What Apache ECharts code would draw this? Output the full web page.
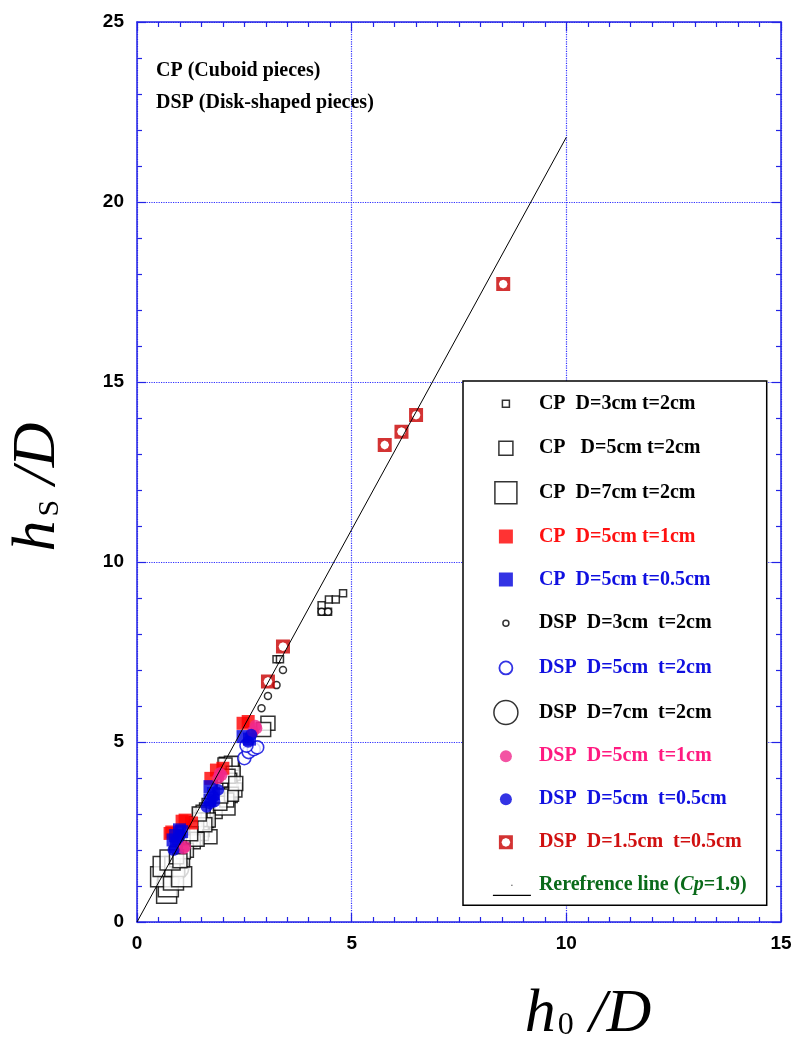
<!DOCTYPE html>
<html><head><meta charset="utf-8">
<script src="https://cdn.jsdelivr.net/npm/echarts@6/dist/echarts.min.js"></script>
<style>html,body{margin:0;padding:0;background:#fff}#c{width:797px;height:1043px}</style>
</head><body><div id="c"></div>
<script>
// ---- axis ranges / ticks ----
const xRange = [0, 15], xStep = 5;
const yRange = [0, 25], yStep = 5;

// ---- data [h0/D, hs/D] ----
const cp3 = [[4.30,8.62],[4.45,8.62],[4.30,8.80],[4.47,8.96],[4.63,8.96],[4.80,9.13],[3.25,7.30],[3.33,7.30]];
const cp5 = [[3.05,5.52],[2.95,5.35],[2.20,4.41],[2.05,4.36],[2.24,4.13],[2.16,3.94],[2.28,3.67],[2.09,3.39],[1.93,3.30],[2.20,3.55],[1.62,3.11],[1.54,3.05],[1.66,2.83],[1.47,2.83],[1.35,2.56],[1.50,2.46],[1.39,2.65],[1.23,2.28],[1.31,2.23],[1.15,1.99],[1.08,1.95],[0.92,1.81],[1.70,2.37],[1.40,2.30],[2.12,4.05],[2.30,3.85],[1.58,2.70],[1.25,2.45],[1.00,1.70],[1.95,3.50],[1.45,3.00]];
const cp7 = [[0.69,0.80],[0.73,0.98],[0.55,1.26],[0.85,1.17],[0.61,1.54],[0.88,1.54],[1.04,1.26],[0.99,1.81],[0.77,1.72],[1.55,2.90],[1.75,3.15],[2.10,3.60],[2.15,4.30],[1.45,2.65],[2.05,3.25],[1.30,2.40]];
const cpT1 = [[2.47,5.52],[2.59,5.57],[1.85,4.22],[2.00,4.27],[1.72,3.99],[0.77,2.46],[0.81,2.50],[1.12,2.83],[1.27,2.75],[1.05,2.80]];
const cpT05 = [[2.47,5.15],[2.62,5.08],[1.70,3.76],[1.78,3.57],[1.70,3.39],[0.84,2.28],[0.99,2.56],[0.92,2.09],[1.04,2.51],[0.90,2.40]];
const dsp3 = [[3.40,7.00],[3.25,6.58],[3.05,6.28],[2.90,5.94],[4.30,8.62],[4.45,8.62]];
const dsp5 = [[2.50,4.55],[2.60,4.72],[2.72,4.80],[2.80,4.85],[2.55,4.90]];
const dsp7 = [[0.73,1.17],[0.95,1.50],[1.45,2.70],[2.10,3.80]];
const dspT1 = [[2.78,5.38],[2.70,5.29],[2.76,5.45],[1.97,4.08],[1.89,3.99],[1.93,4.13],[1.12,2.09],[1.08,2.04]];
const dspT05 = [[2.59,5.01],[2.66,5.20],[1.89,3.67],[1.78,3.48],[1.70,3.30],[1.62,3.20],[1.80,3.35],[0.92,2.28],[0.85,2.00],[1.00,2.40]];
const dsp15 = [[3.05,6.68],[3.40,7.65],[5.77,13.25],[6.16,13.62],[6.50,14.08],[8.53,17.72]];
const refLine = [[0,0],[10,21.8]];

const names = {
  cp3: 'CP  D=3cm t=2cm', cp5: 'CP   D=5cm t=2cm', cp7: 'CP  D=7cm t=2cm',
  cpT1: 'CP  D=5cm t=1cm', cpT05: 'CP  D=5cm t=0.5cm',
  dsp3: 'DSP  D=3cm  t=2cm', dsp5: 'DSP  D=5cm  t=2cm', dsp7: 'DSP  D=7cm  t=2cm',
  dspT1: 'DSP  D=5cm  t=1cm', dspT05: 'DSP  D=5cm  t=0.5cm', dsp15: 'DSP  D=1.5cm  t=0.5cm',
  ref: 'Rerefrence line (Cp=1.9)'
};

const BLUE = '#2323e6', RED = '#ff0000', DBLUE = '#0000dd', PINK = '#f0288c', DRED = '#c80000';
const SERIF = "'Liberation Serif', 'Times New Roman', serif";
const SANS = "'Liberation Sans', Arial, sans-serif";

const holeSym = 'path://M0,0L14,0L14,14L0,14Z M7,2.6 L3.9,3.9 L2.6,7 L3.9,10.1 L7,11.4 L10.1,10.1 L11.4,7 L10.1,3.9 Z';

// legend icons (box 56 x 30)
const W = 56, H = 30, CX = 28, CY = 15;
const pad = 'M0,0M' + W + ',' + H;
function sqIcon(s) { const h = s / 2; return 'path://' + pad + 'M' + (CX - h) + ',' + (CY - h) + 'h' + s + 'v' + s + 'h' + (-s) + 'Z'; }
function ciIcon(r) { return 'path://' + pad + 'M' + (CX - r) + ',' + CY + 'A' + r + ',' + r + ' 0 1,0 ' + (CX + r) + ',' + CY + 'A' + r + ',' + r + ' 0 1,0 ' + (CX - r) + ',' + CY + 'Z'; }
function holeIcon() {
  const s = 14, h = 7, ox = CX - h, oy = CY - h;
  const p = [[7,2.6],[3.9,3.9],[2.6,7],[3.9,10.1],[7,11.4],[10.1,10.1],[11.4,7],[10.1,3.9]];
  let d = pad + 'M' + ox + ',' + oy + 'L' + (ox + s) + ',' + oy + 'L' + (ox + s) + ',' + (oy + s) + 'L' + ox + ',' + (oy + s) + 'Z';
  d += 'M' + (ox + p[0][0]) + ',' + (oy + p[0][1]);
  for (let i = 1; i < p.length; i++) d += 'L' + (ox + p[i][0]) + ',' + (oy + p[i][1]);
  return 'path://' + d + 'Z';
}
const lineIcon = 'path://' + pad + 'M15,24.5h38v1.3h-38Z M33.5,14.5h1v1h-1Z';

function scat(name, data, symbol, size, style) {
  return { name: name, type: 'scatter', data: data, symbol: symbol, symbolSize: size,
           itemStyle: style, emphasis: { disabled: true }, animation: false };
}
const openBlack = { color: '#fff', borderColor: '#000', borderWidth: 1.5 };

const series = [
  scat(names.dsp7, dsp7, 'circle', 22, openBlack),
  scat(names.cp7, cp7, 'rect', 20, openBlack),
  scat(names.cp5, cp5, 'rect', 14, openBlack),
  scat(names.cp3, cp3, 'rect', 7, openBlack),
  scat(names.dsp3, dsp3, 'circle', 7, openBlack),
  scat(names.dsp5, dsp5, 'circle', 13, { color: '#fff', borderColor: DBLUE, borderWidth: 1.6 }),
  scat(names.cpT1, cpT1, 'rect', 13, { color: RED }),
  scat(names.cpT05, cpT05, 'rect', 13, { color: DBLUE }),
  scat(names.dspT1, dspT1, 'circle', 12, { color: PINK }),
  scat(names.dspT05, dspT05, 'circle', 12, { color: DBLUE }),
  scat(names.dsp15, dsp15, holeSym, 14, { color: DRED }),
  { name: names.ref, type: 'line', data: refLine, symbol: 'none', z: 5, animation: false,
    lineStyle: { color: '#000', width: 1 }, itemStyle: { color: '#000' } }
];

const legendData = [
  { name: names.cp3, icon: sqIcon(7), itemStyle: { color: '#fff', borderColor: '#000', borderWidth: 1.5 }, textStyle: { color: '#000' } },
  { name: names.cp5, icon: sqIcon(14), itemStyle: { color: '#fff', borderColor: '#000', borderWidth: 1.5 }, textStyle: { color: '#000' } },
  { name: names.cp7, icon: sqIcon(22), itemStyle: { color: '#fff', borderColor: '#000', borderWidth: 1.5 }, textStyle: { color: '#000' } },
  { name: names.cpT1, icon: sqIcon(14), itemStyle: { color: RED, borderWidth: 0 }, textStyle: { color: '#ff1010' } },
  { name: names.cpT05, icon: sqIcon(14), itemStyle: { color: DBLUE, borderWidth: 0 }, textStyle: { color: '#1010e0' } },
  { name: names.dsp3, icon: ciIcon(3), itemStyle: { color: '#fff', borderColor: '#000', borderWidth: 1.5 }, textStyle: { color: '#000' } },
  { name: names.dsp5, icon: ciIcon(6.5), itemStyle: { color: '#fff', borderColor: DBLUE, borderWidth: 1.8 }, textStyle: { color: '#1010e0' } },
  { name: names.dsp7, icon: ciIcon(12), itemStyle: { color: '#fff', borderColor: '#000', borderWidth: 1.5 }, textStyle: { color: '#000' } },
  { name: names.dspT1, icon: ciIcon(6), itemStyle: { color: PINK, borderWidth: 0 }, textStyle: { color: '#ff1a80' } },
  { name: names.dspT05, icon: ciIcon(6), itemStyle: { color: DBLUE, borderWidth: 0 }, textStyle: { color: '#1010e0' } },
  { name: names.dsp15, icon: holeIcon(), itemStyle: { color: DRED, borderWidth: 0 }, textStyle: { color: '#d01010' } },
  { name: names.ref, icon: lineIcon, itemStyle: { color: '#000', borderWidth: 0 }, textStyle: { color: '#0a6a1a' } }
];

function axisCommon(extra) {
  return Object.assign({
    type: 'value',
    axisLine: { show: true, onZero: false, lineStyle: { color: BLUE, width: 1.5 } },
    axisTick: { show: true, inside: true, length: 9, lineStyle: { color: BLUE, width: 1.2 } },
    minorTick: { show: true, length: 5, lineStyle: { color: BLUE, width: 1.2 } },
    splitLine: { show: false }
  }, extra);
}

const option = {
  backgroundColor: '#fff',
  animation: false,
  title: {
    text: 'CP (Cuboid pieces)\nDSP (Disk-shaped pieces)',
    left: 151, top: 50,
    textStyle: { fontFamily: SERIF, fontWeight: 'bold', fontSize: 20, lineHeight: 32, color: '#000' }
  },
  grid: { left: 137, right: 16, top: 22, bottom: 121, containLabel: false, outerBoundsMode: 'none' },
  legend: {
    orient: 'vertical', left: 463, top: 381,
    itemWidth: W, itemHeight: H, itemGap: 13,
    padding: [7, 20, 5, 14],
    borderColor: '#000', borderWidth: 1.5, backgroundColor: '#fff',
    selectedMode: false,
    textStyle: { fontFamily: SERIF, fontWeight: 'bold', fontSize: 20,
      rich: { it: { fontFamily: SERIF, fontWeight: 'bold', fontStyle: 'italic', fontSize: 20, color: '#0a6a1a' } } },
    formatter: function (n) { return n === names.ref ? 'Rerefrence line ({it|Cp}=1.9)' : n; },
    data: legendData
  },
  xAxis: [
    axisCommon({
      min: xRange[0], max: xRange[1], interval: xStep, position: 'bottom',
      minorTick: { show: true, splitNumber: 10, length: 5, lineStyle: { color: BLUE, width: 1.2 } },
      splitLine: { show: true, lineStyle: { color: '#3030ff', type: 'dotted', width: 1.2 } },
      axisLabel: { margin: 12, color: '#000', fontFamily: SANS, fontWeight: 'bold', fontSize: 19 },
      name: '{i|h}{s|0}{i| /D}', nameLocation: 'middle', nameGap: 62,
      nameTextStyle: { padding: [0, 0, 0, 258],
        rich: { i: { fontFamily: SERIF, fontStyle: 'italic', fontSize: 62, color: '#000' },
                s: { fontFamily: SERIF, fontSize: 32, color: '#000', verticalAlign: 'bottom', padding: [0, 0, 4, 2] } } }
    }),
    axisCommon({
      min: xRange[0], max: xRange[1], interval: xStep, position: 'top',
      minorTick: { show: true, splitNumber: 10, length: 5, lineStyle: { color: BLUE, width: 1.2 } },
      axisLabel: { show: false }
    })
  ],
  yAxis: [
    axisCommon({
      min: yRange[0], max: yRange[1], interval: yStep, position: 'left',
      minorTick: { show: true, splitNumber: 5, length: 5, lineStyle: { color: BLUE, width: 1.2 } },
      splitLine: { show: true, lineStyle: { color: '#3030ff', type: 'dotted', width: 1.2 } },
      axisLabel: { margin: 13, color: '#000', fontFamily: SANS, fontWeight: 'bold', fontSize: 19 },
      name: '{i|h}{s|S}{i| /D}', nameLocation: 'middle', nameGap: 68, nameRotate: 90,
      nameTextStyle: { padding: [0, 30, 0, 0],
        rich: { i: { fontFamily: SERIF, fontStyle: 'italic', fontSize: 62, color: '#000' },
                s: { fontFamily: SERIF, fontSize: 30, color: '#000', verticalAlign: 'bottom', padding: [0, 0, 4, 4] } } }
    }),
    axisCommon({
      min: yRange[0], max: yRange[1], interval: yStep, position: 'right',
      minorTick: { show: true, splitNumber: 5, length: 5, lineStyle: { color: BLUE, width: 1.2 } },
      axisLabel: { show: false }
    })
  ],
  series: series
};

const chart = echarts.init(document.getElementById('c'), null, { renderer: 'canvas' });
chart.setOption(option);
</script>
</body></html>
